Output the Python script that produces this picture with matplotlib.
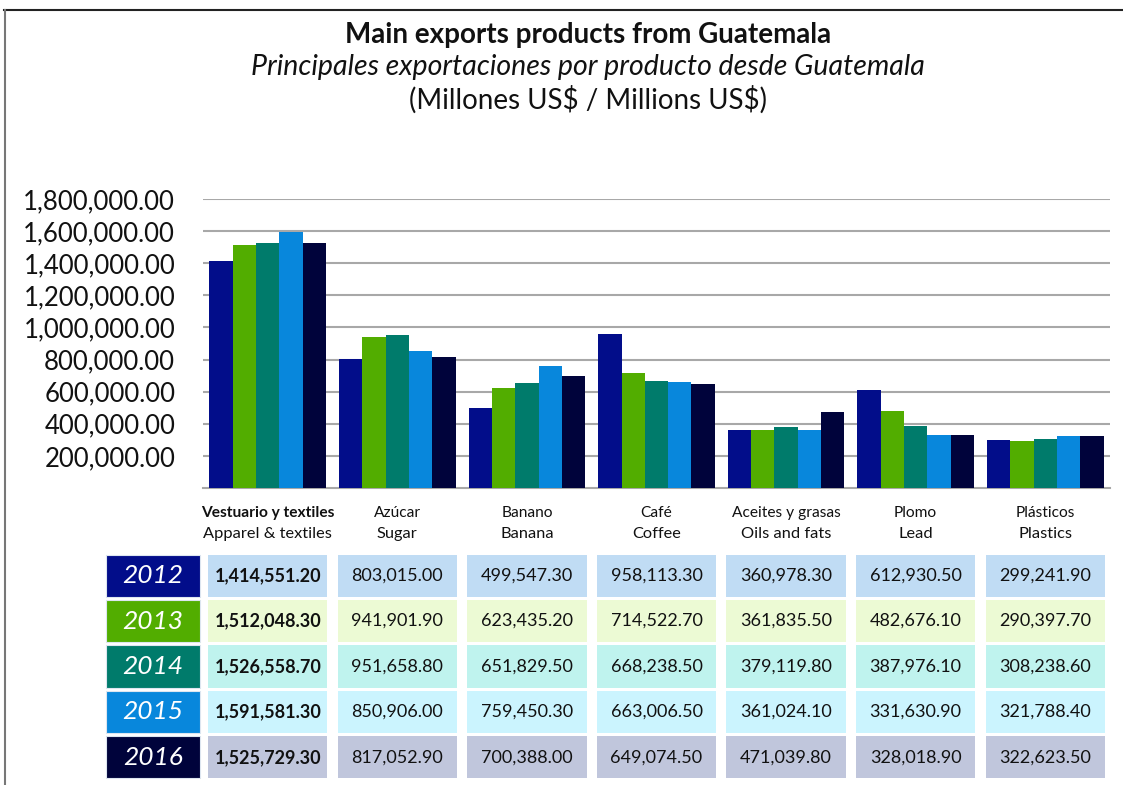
import matplotlib
matplotlib.use("Agg")
import matplotlib.pyplot as plt
from matplotlib.patches import Rectangle
from matplotlib.lines import Line2D
import matplotlib.transforms as mtransforms
import numpy as np

plt.rcParams['font.family'] = ['Lato', 'DejaVu Sans']

# ---- data ----
categories_es = ["Vestuario y textiles", "Azúcar", "Banano", "Café",
                 "Aceites y grasas", "Plomo", "Plásticos"]
categories_en = ["Apparel & textiles", "Sugar", "Banana", "Coffee",
                 "Oils and fats", "Lead", "Plastics"]
years = ["2012", "2013", "2014", "2015", "2016"]
v2012 = [1414551.20, 803015.00, 499547.30, 958113.30, 360978.30, 612930.50, 299241.90]
v2013 = [1512048.30, 941901.90, 623435.20, 714522.70, 361835.50, 482676.10, 290397.70]
v2014 = [1526558.70, 951658.80, 651829.50, 668238.50, 379119.80, 387976.10, 308238.60]
v2015 = [1591581.30, 850906.00, 759450.30, 663006.50, 361024.10, 331630.90, 321788.40]
v2016 = [1525729.30, 817052.90, 700388.00, 649074.50, 471039.80, 328018.90, 322623.50]
series = [v2012, v2013, v2014, v2015, v2016]
yticks = [200000, 400000, 600000, 800000, 1000000, 1200000, 1400000, 1600000, 1800000]

bar_colors = ["#020d8a", "#52ad00", "#007b6b", "#0887dc", "#00033b"]
cell_colors = ["#c0dcf4", "#ecfad4", "#bff3ee", "#cbf4fe", "#c0c6dc"]

W, H = 1123, 785
fig = plt.figure(figsize=(W / 100, H / 100), dpi=100)

def fx(px):
    return px / W

def fy(py):
    return 1 - py / H

# border lines
fig.add_artist(Line2D([fx(4), 1.0], [fy(10), fy(10)], color="#222222", lw=1.5))
fig.add_artist(Line2D([fx(5), fx(5)], [fy(10), 0.0], color="#777777", lw=1.5))

# titles
cx = 588 / W
fig.text(cx, fy(35), "Main exports products from Guatemala", ha="center", va="center",
         fontsize=20, fontweight="bold", color="#111111")
fig.text(cx, fy(67), "Principales exportaciones por producto desde Guatemala", ha="center",
         va="center", fontsize=20.5, fontstyle="italic", color="#111111")
fig.text(cx, fy(100), r"(Millones US\$ / Millions US\$)", ha="center", va="center",
         fontsize=20, color="#111111")

# ---- bar chart ----
left, right, top, bottom = 203, 1110, 199, 488
ax = fig.add_axes([fx(left), fy(bottom), fx(right - left), (bottom - top) / H])
n = len(categories_es)
x = np.arange(n)
bw = 0.18
for i, (vals, c) in enumerate(zip(series, bar_colors)):
    ax.bar(x + (i - 2) * bw, vals, width=bw, color=c, zorder=3)
ax.set_xlim(-0.5, n - 0.5)
ax.set_ylim(0, 1800000)
ax.set_yticks(yticks)
ax.set_yticklabels([f"{v:,.2f}" for v in yticks], fontsize=18.5, color="#111111")
ax.tick_params(axis="y", length=0, pad=20)
ax.set_xticks([])
ax.grid(axis="y", color="#a8a8a8", lw=1.5, zorder=0)
for s in ["top", "right", "left"]:
    ax.spines[s].set_visible(False)
ax.spines["bottom"].set_color("#a8a8a8")
ax.spines["bottom"].set_linewidth(1.5)
ax.patch.set_alpha(0)

# category labels
tr = mtransforms.blended_transform_factory(ax.transData, fig.transFigure)
for i in range(n):
    ax.text(i, fy(513), categories_es[i], transform=tr, ha="center", va="center",
            fontsize=11.2, fontweight="bold" if i == 0 else "normal", color="#111111",
            clip_on=False)
    ax.text(i, fy(534), categories_en[i], transform=tr, ha="center", va="center",
            fontsize=11.8, color="#111111", clip_on=False)

# ---- table ----
t_left = left - 0.8 * (right - left) / n
t_top, t_bot = 553, 780
tax = fig.add_axes([fx(t_left), fy(t_bot), fx(right - t_left), (t_bot - t_top) / H])
tax.set_xlim(-1.3, n - 0.5)
tax.set_ylim(5, 0)
tax.axis("off")
row_h = 0.93
for r in range(len(years)):
    y0 = r + (1 - row_h) / 2
    tax.add_patch(Rectangle((-1.25, y0), 0.73, row_h, facecolor=bar_colors[r],
                            edgecolor="#dde6f0", lw=0.8))
    tax.text(-0.885, r + 0.5, years[r], ha="center", va="center", fontsize=19,
             fontstyle="italic", color="white")
    for c in range(n):
        tax.add_patch(Rectangle((c - 0.46, y0), 0.92, row_h, facecolor=cell_colors[r],
                                edgecolor="none"))
        tax.text(c, r + 0.5, f"{series[r][c]:,.2f}", ha="center", va="center",
                 fontsize=13, fontweight="bold" if c == 0 else "normal", color="#111111")

fig.savefig("out.png", dpi=100)
